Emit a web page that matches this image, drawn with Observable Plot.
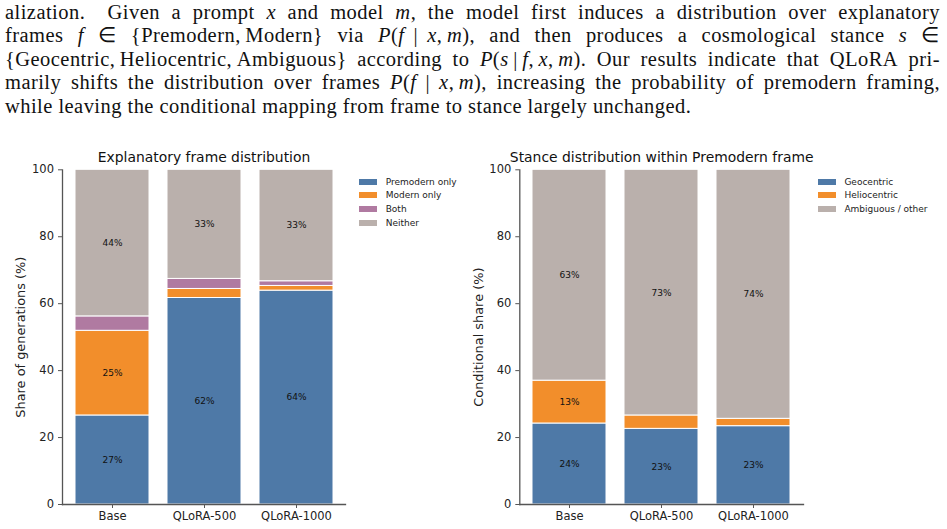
<!DOCTYPE html>
<html>
<head>
<meta charset="utf-8">
<script src="https://cdn.jsdelivr.net/npm/d3@7"></script>
<script src="https://cdn.jsdelivr.net/npm/@observablehq/plot@0.6"></script>
<style>
  html, body { margin: 0; padding: 0; background: #fff; }
  body { width: 947px; height: 529px; position: relative; overflow: hidden; }
  #para { position: absolute; left: 5px; top: 0.5px; width: 935px;
          font-family: "Liberation Serif", "Times New Roman", serif; font-size: 20.5px;
          letter-spacing: 0.45px; line-height: 23.5px; color: #111; }
  .ln { display: flex; justify-content: space-between; white-space: nowrap; height: 23.5px; }
  .ln.last { justify-content: flex-start; }
  .ln.last span { margin-right: 5.6px; }
  .m { white-space: nowrap; }
  .chart { position: absolute; top: 140px; }
  .legend { position: absolute; font-family: "DejaVu Sans", sans-serif; font-size: 9px; color: #222; }
  .legend .row { display: flex; align-items: center; height: 13.8px; white-space: nowrap; }
  .legend .sw { width: 18px; height: 6px; margin-right: 8.7px; flex: none; }
</style>
</head>
<body>
<div id="para"></div>
<div id="c1" class="chart" style="left:0px"></div>
<div id="c2" class="chart" style="left:470px"></div>
<div id="l1" class="legend" style="left:359px; top:174.8px"></div>
<div id="l2" class="legend" style="left:817.7px; top:174.8px"></div>
<script>
// ---------- data ----------
const models = ["Base", "QLoRA-500", "QLoRA-1000"];

const frameSeries = ["Premodern only", "Modern only", "Both", "Neither"];
const premodernOnly = [26.6, 61.7, 63.9];
const modernOnly    = [25.3, 2.7, 1.4];
const bothFrames    = [4.3, 3.0, 1.4];
const neitherFrame  = [43.8, 32.6, 33.3];

const stanceSeries = ["Geocentric", "Heliocentric", "Ambiguous / other"];
const geocentric   = [24.2, 22.6, 23.4];
const heliocentric = [12.8, 4.0, 2.2];
const ambiguous    = [63.0, 73.4, 74.4];

const yTicks = [0, 20, 40, 60, 80, 100];
const frameColors = ["#4e79a7", "#f28e2b", "#b07aa1", "#bab0ac"];
const stanceColors = ["#4e79a7", "#f28e2b", "#bab0ac"];

const titles = ["Explanatory frame distribution", "Stance distribution within Premodern frame"];
const yLabels = ["Share of generations (%)", "Conditional share (%)"];

// ---------- paragraph ----------
const T = "\u2009";
const lines = [
  `alization.\u2002 Given a prompt <i>x</i> and model <i>m</i>, the model first induces a distribution over explanatory`,
  `frames <i>f</i> ∈ {Premodern,${T}Modern} via <span class="m"><i>P</i>(<i>f</i>${T}${T}|${T}${T}<i>x</i>,${T}<i>m</i>),</span> and then produces a cosmological stance <i>s</i> ∈`,
  `{Geocentric,${T}Heliocentric,${T}Ambiguous} according to <span class="m"><i>P</i>(<i>s</i>${T}|${T}<i>f</i>,${T}<i>x</i>,${T}<i>m</i>).</span> Our results indicate that QLoRA pri-`,
  `marily shifts the distribution over frames <span class="m"><i>P</i>(<i>f</i>${T}${T}|${T}${T}<i>x</i>,${T}<i>m</i>),</span> increasing the probability of premodern framing,`,
  `while leaving the conditional mapping from frame to stance largely unchanged.`
];
const para = document.getElementById("para");
lines.forEach((ln, i) => {
  const div = document.createElement("div");
  div.className = "ln" + (i === lines.length - 1 ? " last" : "");
  const parts = ln.replace(/<span class="m">/g, "<span\u00a0class=\"m\">").split(" ");
  div.innerHTML = parts.map(p => `<span>${p.replace(/\u00a0class/g, " class")}</span>`).join("");
  para.appendChild(div);
});

// ---------- charts ----------
function buildTable(series, cols) {
  const rows = [];
  models.forEach((m, i) => series.forEach((s, j) => rows.push({model: m, series: s, value: cols[j][i]})));
  return rows;
}

function makeChart({table, series, colors, title, ylabel, width, marginLeft, marginRight, labelDx}) {
  return Plot.plot({
    width, height: 389,
    marginTop: 29.3, marginBottom: 25, marginLeft, marginRight,
    style: {fontFamily: "'DejaVu Sans', sans-serif", fontSize: "11.5px", color: "#222", background: "transparent", overflow: "visible"},
    x: {domain: models, paddingInner: 0.2, paddingOuter: 0.138},
    y: {domain: [0, 100]},
    color: {domain: series, range: colors},
    marks: [
      Plot.barY(table, {x: "model", y: "value", fill: "series", order: series, stroke: "white", strokeWidth: 1}),
      Plot.text(table, Plot.stackY({
        x: "model", y: "value", z: "series", order: series,
        text: d => d.value >= 5 ? Math.round(d.value) + "%" : "",
        fontSize: 9, fill: "#111"
      })),
      Plot.frame({anchor: "left", stroke: "#555", strokeWidth: 1.3}),
      Plot.frame({anchor: "bottom", stroke: "#555", strokeWidth: 1.3}),
      Plot.axisY({ticks: yTicks, tickSize: 4, tickPadding: 4.5, stroke: "#555", fill: "#222", label: null, fontSize: 11.5}),
      Plot.axisX({tickSize: 4, tickPadding: 3, stroke: "#555", fill: "#222", label: null, fontSize: 11.5}),
      Plot.text([title], {frameAnchor: "top", lineAnchor: "middle", textAnchor: "middle", dy: -12.3, fontSize: 13.9, fill: "#111"}),
      Plot.text([ylabel], {frameAnchor: "left", textAnchor: "middle", lineAnchor: "middle", dx: labelDx, rotate: -90, fontSize: 12.9, fill: "#222"})
    ]
  });
}

document.getElementById("c1").appendChild(makeChart({
  table: buildTable(frameSeries, [premodernOnly, modernOnly, bothFrames, neitherFrame]),
  series: frameSeries, colors: frameColors, title: titles[0], ylabel: yLabels[0],
  width: 470, marginLeft: 62, marginRight: 125, labelDx: -42
}));
document.getElementById("c2").appendChild(makeChart({
  table: buildTable(stanceSeries, [geocentric, heliocentric, ambiguous]),
  series: stanceSeries, colors: stanceColors, title: titles[1], ylabel: yLabels[1],
  width: 477, marginLeft: 49.3, marginRight: 144, labelDx: -41.3
}));

function legend(el, series, colors) {
  series.forEach((s, i) => {
    const row = document.createElement("div");
    row.className = "row";
    row.innerHTML = `<span class="sw" style="background:${colors[i]}"></span><span>${s}</span>`;
    el.appendChild(row);
  });
}
legend(document.getElementById("l1"), frameSeries, frameColors);
legend(document.getElementById("l2"), stanceSeries, stanceColors);
</script>
</body>
</html>
